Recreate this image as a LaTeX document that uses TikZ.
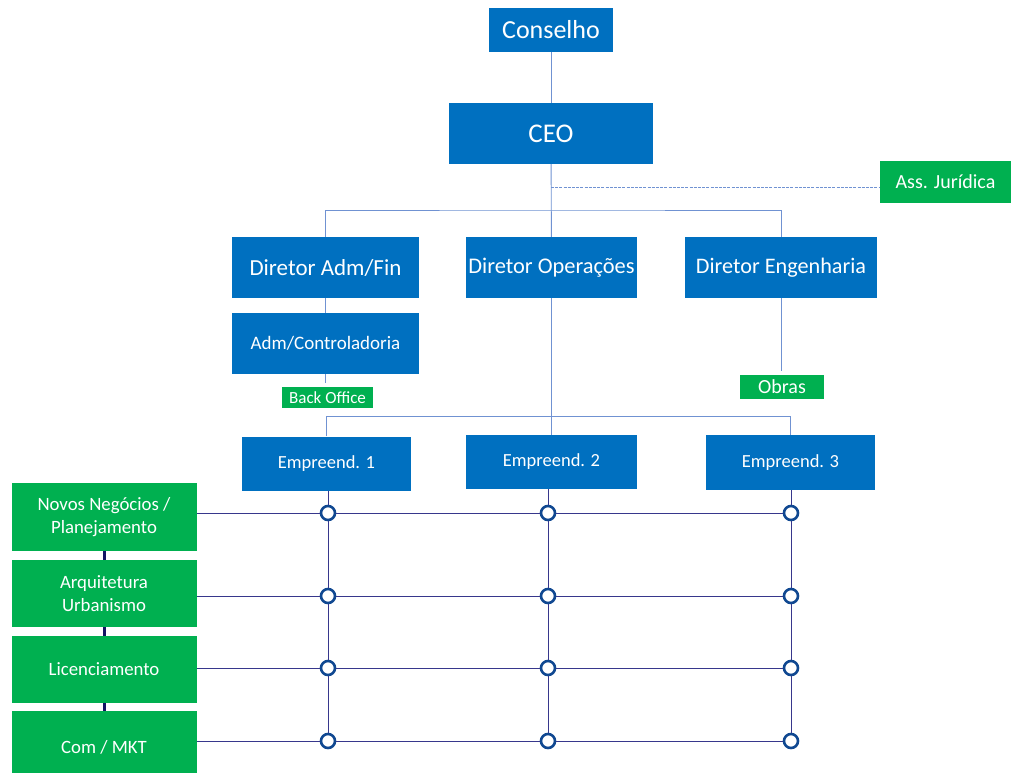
\documentclass[tikz,border=0pt]{standalone}
\usepackage{fontspec}
\setmainfont{Carlito}
\usetikzlibrary{positioning}
\definecolor{azul}{RGB}{0,112,192}
\definecolor{verde}{RGB}{0,176,80}
\definecolor{linha}{RGB}{112,146,210}
\definecolor{grade}{RGB}{55,55,140}
\definecolor{anel}{RGB}{16,72,145}
\definecolor{marinho}{RGB}{20,20,100}
\begin{document}
\begin{tikzpicture}[x=1pt,y=-1pt,
    cargo/.style={fill=azul,text=white,inner sep=0pt,align=center},
    apoio/.style={fill=verde,text=white,inner sep=0pt,align=center},
    ligacao/.style={draw=linha,line width=0.9pt},
    eixo/.style={draw=grade,line width=1pt},
    no/.style={circle,draw=anel,fill=white,line width=2.6pt,minimum size=14pt,inner sep=0pt}]
    \useasboundingbox[fill=white] (0,0) rectangle (1014,772);

    % topo
    \node[cargo,minimum width=124pt,minimum height=44pt,font=\fontsize{26}{30}\selectfont] (conselho) at (551,30) {Conselho};
    \node[cargo,minimum width=204pt,minimum height=61pt,font=\fontsize{27}{32}\selectfont] (ceo) at (551,133.5) {CEO};
    \node[apoio,minimum width=131pt,minimum height=42pt,font=\fontsize{20}{24}\selectfont] (juridica) at (945.5,182) {Ass. Jurídica};
    \coordinate (juri) at (551,187);
    \coordinate (ramo) at (551,210);

    % diretores
    \node[cargo,minimum width=187pt,minimum height=61pt,font=\fontsize{23}{27}\selectfont] (admfin) at (325.5,267.5) {Diretor Adm/Fin};
    \node[cargo,minimum width=171pt,minimum height=61pt,font=\fontsize{22.4}{27}\selectfont,text height=16pt,text depth=5pt] (operacoes) at (551.5,267.5) {Diretor Operações};
    \node[cargo,minimum width=192pt,minimum height=61pt,font=\fontsize{22.2}{27}\selectfont] (engenharia) at (781,267.5) {Diretor Engenharia};
    \node[cargo,minimum width=187pt,minimum height=61pt,font=\fontsize{19}{23}\selectfont] (controladoria) at (325.5,343.5) {Adm/Controladoria};
    \node[apoio,minimum width=91pt,minimum height=21pt,font=\fontsize{17}{20}\selectfont] (backoffice) at (327.5,397.5) {Back Office};
    \node[apoio,minimum width=84pt,minimum height=24pt,font=\fontsize{20}{24}\selectfont] (obras) at (782,387) {Obras};

    \path[ligacao] (conselho) -- (ceo);
    \path[ligacao] (ceo) -- (operacoes);
    \path[ligacao] (admfin.north) |- (ramo) -| (engenharia.north);
    \path[ligacao,dash pattern=on 3pt off 1.2pt] (juri) -- (juri -| juridica.west);
    \path[ligacao] (admfin) -- (controladoria);
    \path[ligacao] (controladoria.south) -- ++(0,9);
    \path[ligacao] (engenharia.south) -- ++(0,73);

    % empreendimentos
    \node[cargo,minimum width=169pt,minimum height=54pt,font=\fontsize{18.5}{22}\selectfont] (emp1) at (326.5,463.5) {Empreend. 1};
    \node[cargo,minimum width=171pt,minimum height=54pt,font=\fontsize{18.5}{22}\selectfont] (emp2) at (551.5,462) {Empreend. 2};
    \node[cargo,minimum width=169pt,minimum height=55pt,font=\fontsize{18.5}{22}\selectfont] (emp3) at (790.5,462.5) {Empreend. 3};
    \coordinate (obra) at (551,416);
    \path[ligacao] (operacoes) -- (emp2);
    \path[ligacao] (emp1.north) |- (obra) -| (emp3.north);

    % areas de apoio
    \node[apoio,minimum width=185pt,minimum height=68pt,font=\fontsize{18.8}{23}\selectfont] (novos) at (104,517) {Novos Negócios /\\Planejamento};
    \node[apoio,minimum width=185pt,minimum height=67pt,font=\fontsize{18.8}{23}\selectfont] (arquitetura) at (104,593.5) {Arquitetura\\Urbanismo};
    \node[apoio,minimum width=185pt,minimum height=67pt,font=\fontsize{18.8}{23}\selectfont] (licenciamento) at (104,669.5) {Licenciamento};
    \node[apoio,minimum width=185pt,minimum height=72pt,font=\fontsize{18.8}{23}\selectfont] (commkt) at (104,747) {Com / MKT};

    \path[draw=marinho,line width=3pt] (novos) -- (arquitetura);
    \path[draw=marinho,line width=3pt] (arquitetura) -- (licenciamento);
    \path[draw=marinho,line width=3pt] (licenciamento) -- (commkt);

    \node[no] (c11) at (328,513) {};
    \node[no] (c12) at (548,513) {};
    \node[no] (c13) at (791,513) {};
    \node[no] (c21) at (328,596) {};
    \node[no] (c22) at (548,596) {};
    \node[no] (c23) at (791,596) {};
    \node[no] (c31) at (328,668) {};
    \node[no] (c32) at (548,668) {};
    \node[no] (c33) at (791,668) {};
    \node[no] (c41) at (328,741) {};
    \node[no] (c42) at (548,741) {};
    \node[no] (c43) at (791,741) {};

    \path[eixo] (c11 -| novos.east) -- (c11) -- (c12) -- (c13);
    \path[eixo] (c21 -| arquitetura.east) -- (c21) -- (c22) -- (c23);
    \path[eixo] (c31 -| licenciamento.east) -- (c31) -- (c32) -- (c33);
    \path[eixo] (c41 -| commkt.east) -- (c41) -- (c42) -- (c43);
    \path[eixo] (c11 |- emp1.south) -- (c11) -- (c21) -- (c31) -- (c41);
    \path[eixo] (c12 |- emp2.south) -- (c12) -- (c22) -- (c32) -- (c42);
    \path[eixo] (c13 |- emp3.south) -- (c13) -- (c23) -- (c33) -- (c43);
\end{tikzpicture}
\end{document}
